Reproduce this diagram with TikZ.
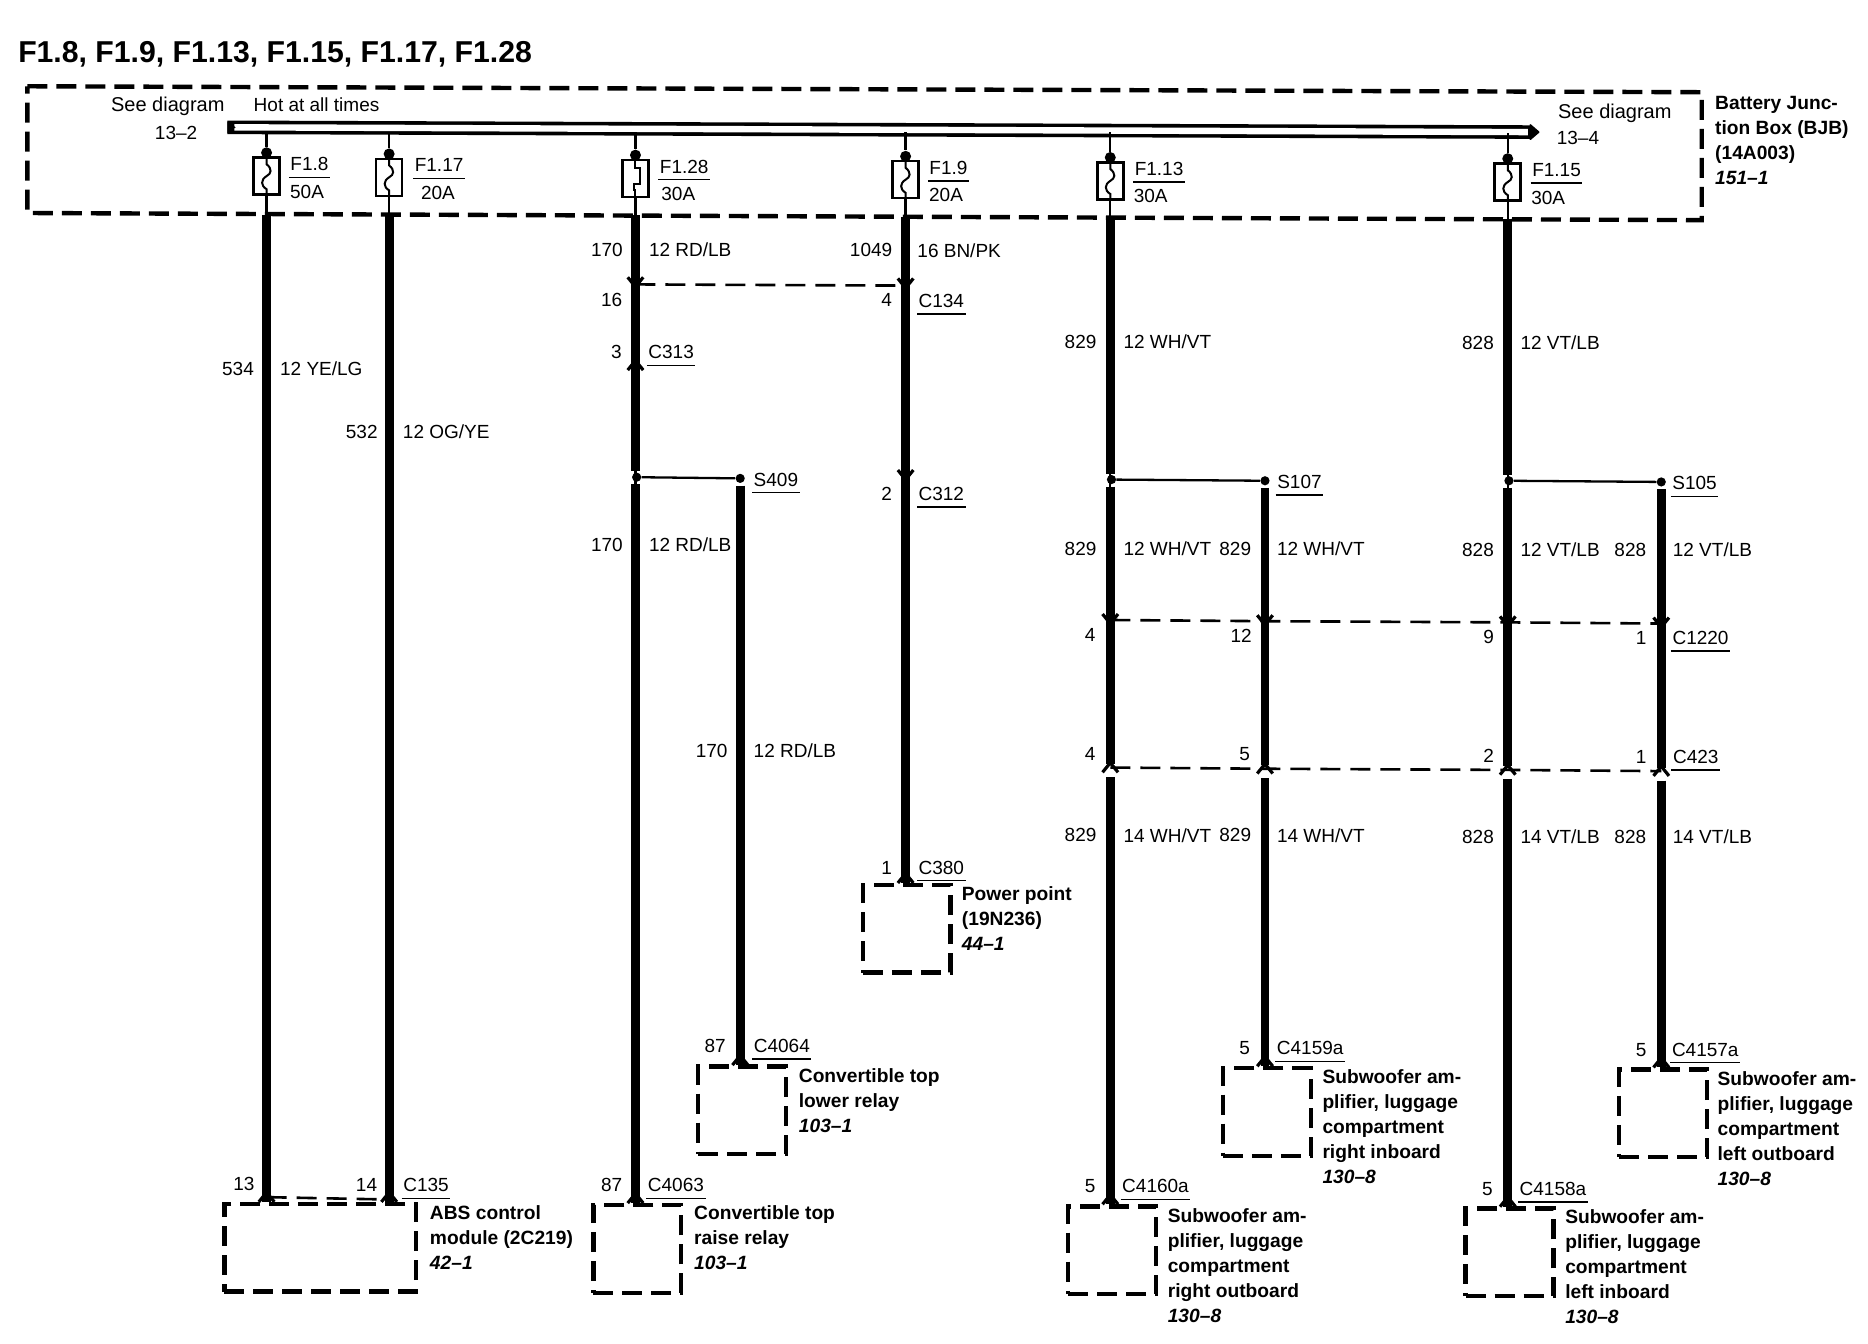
\documentclass[tikz,border=0pt]{standalone}
\usepackage{fontspec}
\setmainfont{Liberation Sans}
\usetikzlibrary{calc}
\tikzset{
  x=0.595pt,y=-0.595pt,
  lab/.style={inner sep=0pt,font=\fontsize{9.5}{11}\selectfont},
  bold/.style={inner sep=0pt,anchor=north west,align=left,font=\fontsize{9.6}{12.5}\selectfont\bfseries},
  thickwire/.style={line width=4.4pt},
  thinwire/.style={line width=1.15pt},
  connline/.style={line width=1.3pt,dash pattern=on 10pt off 5pt},
  boxline/.style={line width=2.2pt,dash pattern=on 10pt off 4.5pt,line join=miter},
  comp/.style={draw,boxline,inner sep=0pt,minimum width=#1,minimum height=43.8pt},
  fusebox/.style={draw,line width=1.3pt,inner sep=0pt,minimum width=13pt,minimum height=18.5pt},
  splice/.style={circle,fill=black,inner sep=0pt,minimum size=4.6pt},
  fusedot/.style={circle,fill=black,inner sep=0pt,minimum size=5.5pt},
  chevup/.pic={\draw[line width=1.6pt] (-6.5,8)--(0,0)--(6.5,8);},
  chevdn/.pic={\draw[line width=1.6pt] (-6.5,-8)--(0,0)--(6.5,-8);},
  wigA/.pic={\draw[line width=1pt] (0,-16)--(0,-10) .. controls (5,-6) and (4,-2) .. (0,0) .. controls (-5,3) and (-5,8) .. (0,11)--(0,16);},
  wigB/.pic={\draw[line width=1pt] (0,-16)--(0,-9)--(4,-9)--(4,5)--(-1,5)--(-1,10)--(0,10)--(0,16);},
}
% connector or splice label with a rule beneath it
\newcommand{\ulab}[4]{\node[lab] (#1) at (#2,#3) {#4};
  \draw[line width=0.7pt] ($(#1.south west)+(-1,5)$) -- ($(#1.south east)+(1,5)$);}
\newcommand{\fuse}[6]{%
  \node[fusebox] (#1) at (#2,#3) {};
  \pic at (#1.center) {#4};
  \coordinate (#1tap) at (#2,#5);
  \coordinate (#1edge) at (#2,#6);
  \node[fusedot] (#1dot) at ($(#1.north)+(0,-3)$) {};
  \draw[thinwire] (#1tap) -- (#1dot);
  \draw[thinwire] (#1.south) -- (#1edge);
}
\begin{document}
\begin{tikzpicture}
\useasboundingbox (0,0) rectangle (1569.75,1129.4);
\begin{scope}[shift={(1,1)}]
\node[inner sep=0pt,anchor=west,font=\fontsize{15.1}{18}\selectfont\bfseries] (title) at (14,45) {F1.8, F1.9, F1.13, F1.15, F1.17, F1.28};

% Battery junction box
\coordinate (b1) at (22,71.5); \coordinate (b2) at (1429,76.5); \coordinate (b3) at (1429,184); \coordinate (b4) at (22,178);
\draw[boxline] (b1) -- (b2) -- (b3) -- (b4) -- cycle;
\node[bold,anchor=north west] (bjb) at (1440,80) {Battery Junc-\\tion Box (BJB)\\(14A003)\\\itshape 151–1};

\node[lab,font=\fontsize{10}{12}\selectfont] (sd1) at (140,88) {See diagram};
\node[lab] (n132) at (147,111) {13–2};
\node[lab] (hot) at (265,87) {Hot at all times};
\node[lab,font=\fontsize{10}{12}\selectfont] (sd2) at (1356,94) {See diagram};
\node[lab] (n134) at (1325,115) {13–4};

% Bus
\coordinate (busL) at (190,106); \coordinate (busR) at (1286,110);
\draw[line width=6.8pt] (busL) -- (busR);
\draw[line width=3.2pt,white] ($(busL)+(6,0)$) -- ($(busR)+(-3,0)$);
\fill[line join=round,draw,line width=0.8pt] ($(busR)+(-1,-6)$) -- ($(busR)+(6,0)$) -- ($(busR)+(-1,6)$) -- cycle;
\fill ($(busL)+(0,-5)$) -- ($(busL)+(7,0)$) -- ($(busL)+(0,5)$) -- cycle;

% Fuses
\fuse{f8}{223}{147}{wigA}{110}{180}
\fuse{f17}{326}{148}{wigA}{110}{180}
\fuse{f28}{533}{149}{wigB}{110}{180}
\fuse{f9}{760}{150}{wigA}{110}{181}
\fuse{f13}{932}{151}{wigA}{110}{182}
\fuse{f15}{1266}{152}{wigA}{111}{183}

\ulab{lf8}{259}{137}{F1.8}  \node[lab] (af8) at (257,160) {50A};
\ulab{lf17}{368}{138}{F1.17} \node[lab] (af17) at (367,161) {20A};
\ulab{lf28}{574}{139}{F1.28} \node[lab] (af28) at (569,162) {30A};
\ulab{lf9}{796}{140}{F1.9}  \node[lab] (af9) at (794,163) {20A};
\ulab{lf13}{973}{141}{F1.13} \node[lab] (af13) at (966,164) {30A};
\ulab{lf15}{1307}{142}{F1.15} \node[lab] (af15) at (1300,165) {30A};

% Component boxes
\node[comp=43.8pt] (raise) at (534.5,1048.5) {};
\node[comp=95.8pt] (abs) at (268,1047.5) {};
\node[comp=43.8pt] (lower) at (622.5,932) {};
\node[comp=43.8pt] (power) at (761,779.5) {};
\node[comp=44pt] (sro) at (933.5,1049.5) {};
\node[comp=44pt] (sri) at (1063.5,933.5) {};
\node[comp=44pt] (sli) at (1267.5,1051.5) {};
\node[comp=44pt] (slo) at (1396.5,934.5) {};

\node[bold] (tabs) at (360,1012) {ABS control\\module (2C219)\\\itshape 42–1};
\node[bold] (traise) at (582,1012) {Convertible top\\raise relay\\\itshape 103–1};
\node[bold] (tlower) at (670,896.5) {Convertible top\\lower relay\\\itshape 103–1};
\node[bold] (tpower) at (807,744) {Power point\\(19N236)\\\itshape 44–1};
\node[bold] (tsro) at (980,1014) {Subwoofer am-\\plifier, luggage\\compartment\\right outboard\\\itshape 130–8};
\node[bold] (tsri) at (1110,897.5) {Subwoofer am-\\plifier, luggage\\compartment\\right inboard\\\itshape 130–8};
\node[bold] (tsli) at (1314,1015) {Subwoofer am-\\plifier, luggage\\compartment\\left inboard\\\itshape 130–8};
\node[bold] (tslo) at (1442,899) {Subwoofer am-\\plifier, luggage\\compartment\\left outboard\\\itshape 130–8};

% Named wire points
\coordinate (abs1) at (223,1009); \coordinate (abs2) at (326,1009);
\coordinate (abs1c) at (223,1001); \coordinate (abs2c) at (326,1001);
\draw[thickwire] (f8edge) -- (abs1);
\draw[thickwire] (f17edge) -- (abs2);
\pic at (abs1c) {chevup}; \pic at (abs2c) {chevup};
\coordinate (d135a) at (223,1005); \coordinate (d135b) at (326,1007);
\draw[connline] (d135a) -- (d135b);

% F1.28 column
\coordinate (j16) at (533,240); \coordinate (j313) at (533,302);
\node[splice] (s409a) at (534,400) {};
\node[splice] (s409b) at (621,401) {};
\coordinate (w28a) at (533,395); \coordinate (w28b) at (533,406);
\coordinate (w28c) at (533,1010); \coordinate (w28d) at (533,1002);
\draw[thickwire] (f28edge) -- (w28a);
\draw[thickwire] (w28b) -- (w28c);
\draw[thinwire] (w28a) -- (w28b);
\pic at (j16) {chevdn}; \pic at (j313) {chevup}; \pic at (w28d) {chevup};
\draw[thinwire] (s409a) -- (s409b);
\coordinate (w62a) at (621,407); \coordinate (w62b) at (621,894); \coordinate (w62c) at (621,886);
\draw[thickwire] (w62a) -- (w62b);
\pic at (w62c) {chevup};

% F1.9 column
\coordinate (j134) at (760,241); \coordinate (j312) at (760,402);
\coordinate (w9a) at (760,741); \coordinate (w9b) at (760,733);
\draw[thickwire] (f9edge) -- (w9a);
\pic at (j134) {chevdn}; \pic at (j312) {chevdn}; \pic at (w9b) {chevup};
\coordinate (d134a) at (533,238); \coordinate (d134b) at (760,239);
\draw[connline] (d134a) -- (d134b);

% F1.13 column
\node[splice] (s107a) at (933,402) {};
\node[splice] (s107b) at (1062,403) {};
\coordinate (w13a) at (932,397); \coordinate (w13b) at (932,408);
\coordinate (j1a) at (932,520); \coordinate (j2a) at (932,644);
\coordinate (w13c) at (932,1011); \coordinate (w13d) at (932,1003);
\draw[thickwire] (f13edge) -- (w13a);
\draw[thickwire] (w13b) -- ($(j2a)+(0,-3)$);
\draw[thickwire] ($(j2a)+(0,8)$) -- (w13c);
\draw[thinwire] (w13a) -- (w13b);
\draw[thinwire] (s107a) -- (s107b);
\coordinate (w17a) at (1062,409); \coordinate (j1b) at (1062,521); \coordinate (j2b) at (1062,645);
\coordinate (w17c) at (1062,895); \coordinate (w17d) at (1062,887);
\draw[thickwire] (w17a) -- ($(j2b)+(0,-3)$);
\draw[thickwire] ($(j2b)+(0,8)$) -- (w17c);

% F1.15 column
\node[splice] (s105a) at (1267,403) {};
\node[splice] (s105b) at (1395,404) {};
\coordinate (w15a) at (1266,398); \coordinate (w15b) at (1266,409);
\coordinate (j1c) at (1266,522); \coordinate (j2c) at (1266,646);
\coordinate (w15c) at (1266,1013); \coordinate (w15d) at (1266,1005);
\draw[thickwire] (f15edge) -- (w15a);
\draw[thickwire] (w15b) -- ($(j2c)+(0,-3)$);
\draw[thickwire] ($(j2c)+(0,8)$) -- (w15c);
\draw[thinwire] (w15a) -- (w15b);
\draw[thinwire] (s105a) -- (s105b);
\coordinate (w16a) at (1395,410); \coordinate (j1d) at (1395,523); \coordinate (j2d) at (1395,647);
\coordinate (w16c) at (1395,896); \coordinate (w16d) at (1395,888);
\draw[thickwire] (w16a) -- ($(j2d)+(0,-3)$);
\draw[thickwire] ($(j2d)+(0,8)$) -- (w16c);

\draw[connline] (j1a) -- (j1b) -- (j1c) -- (j1d);
\draw[connline] (j2a) -- (j2b) -- (j2c) -- (j2d);
\foreach \p in {j1a,j1b,j1c,j1d} {\pic at ($(\p)+(0,3)$) {chevdn};}
\foreach \p in {j2a,j2b,j2c,j2d} {\pic at ($(\p)+(0,-4)$) {chevup};}
\foreach \p in {w13d,w17d,w15d,w16d} {\pic at (\p) {chevup};}

% Wire labels
\node[lab] (a1) at (199,309) {534}; \node[lab] (a2) at (269,309) {12 YE/LG};
\node[lab] (a3) at (303,362) {532}; \node[lab] (a4) at (374,362) {12 OG/YE};
\node[lab] (a5) at (509,209) {170}; \node[lab] (a6) at (579,209) {12 RD/LB};
\node[lab] (a7) at (509,457) {170}; \node[lab] (a8) at (579,457) {12 RD/LB};
\node[lab] (a9) at (597,630) {170}; \node[lab] (a10) at (667,630) {12 RD/LB};
\node[lab] (a11) at (731,209) {1049}; \node[lab] (a12) at (805,210) {16 BN/PK};
\node[lab] (a13) at (907,286) {829}; \node[lab] (a14) at (980,286) {12 WH/VT};
\node[lab] (a15) at (907,460) {829}; \node[lab] (a16) at (980,460) {12 WH/VT};
\node[lab] (a17) at (1037,460) {829}; \node[lab] (a18) at (1109,460) {12 WH/VT};
\node[lab] (a19) at (907,701) {829}; \node[lab] (a20) at (980,701) {14 WH/VT};
\node[lab] (a21) at (1037,701) {829}; \node[lab] (a22) at (1109,701) {14 WH/VT};
\node[lab] (a23) at (1241,287) {828}; \node[lab] (a24) at (1310,287) {12 VT/LB};
\node[lab] (a25) at (1241,461) {828}; \node[lab] (a26) at (1310,461) {12 VT/LB};
\node[lab] (a27) at (1369,461) {828}; \node[lab] (a28) at (1438,461) {12 VT/LB};
\node[lab] (a29) at (1241,702) {828}; \node[lab] (a30) at (1310,702) {14 VT/LB};
\node[lab] (a31) at (1369,702) {828}; \node[lab] (a32) at (1438,702) {14 VT/LB};

% Pin numbers
\node[lab] (p1) at (204,994) {13}; \node[lab] (p2) at (307,995) {14};
\node[lab] (p3) at (513,251) {16}; \node[lab] (p4) at (517,295) {3};
\node[lab] (p5) at (513,995) {87}; \node[lab] (p6) at (600,878) {87};
\node[lab] (p7) at (744,251) {4}; \node[lab] (p8) at (744,414) {2}; \node[lab] (p9) at (744,728) {1};
\node[lab] (p10) at (915,533) {4}; \node[lab] (p11) at (1042,533) {12}; \node[lab] (p12) at (1250,534) {9}; \node[lab] (p13) at (1378,535) {1};
\node[lab] (p14) at (915,633) {4}; \node[lab] (p15) at (1045,633) {5}; \node[lab] (p16) at (1250,634) {2}; \node[lab] (p17) at (1378,635) {1};
\node[lab] (p18) at (915,996) {5}; \node[lab] (p19) at (1045,880) {5}; \node[lab] (p20) at (1249,998) {5}; \node[lab] (p21) at (1378,881) {5};

% Connector and splice names
\ulab{c135}{357}{995}{C135}
\ulab{c4063}{567}{995}{C4063}
\ulab{c4064}{656}{878}{C4064}
\ulab{c313}{563}{295}{C313}
\ulab{c134}{790}{252}{C134}
\ulab{c312}{790}{414}{C312}
\ulab{c380}{790}{728}{C380}
\ulab{l409}{651}{402}{S409}
\ulab{l107}{1091}{404}{S107}
\ulab{l105}{1423}{405}{S105}
\ulab{c1220}{1428}{535}{C1220}
\ulab{c423}{1424}{635}{C423}
\ulab{c4160}{970}{996}{C4160a}
\ulab{c4159}{1100}{880}{C4159a}
\ulab{c4158}{1304}{998}{C4158a}
\ulab{c4157}{1432}{881}{C4157a}
\end{scope}
\end{tikzpicture}
\end{document}
